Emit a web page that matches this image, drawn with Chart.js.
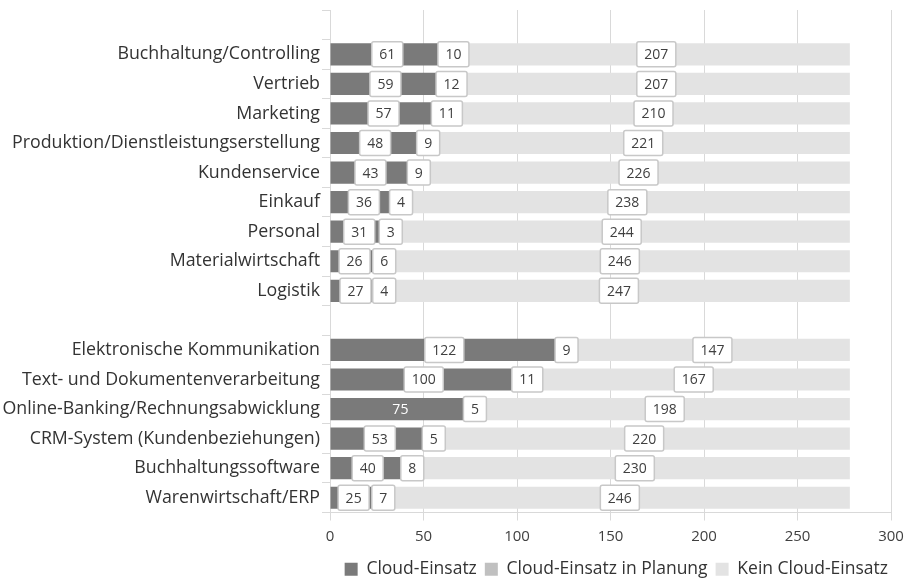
<!DOCTYPE html>
<html>
<head>
<meta charset="utf-8">
<script src="https://cdn.jsdelivr.net/npm/chart.js@4"></script>
<style>
  html, body { margin: 0; padding: 0; background: #fff; }
  #wrap { width: 912px; height: 580px; }
</style>
</head>
<body>
<div id="wrap"><canvas id="chart"></canvas></div>
<script>
const categories = [
  '',
  'Buchhaltung/Controlling',
  'Vertrieb',
  'Marketing',
  'Produktion/Dienstleistungserstellung',
  'Kundenservice',
  'Einkauf',
  'Personal',
  'Materialwirtschaft',
  'Logistik',
  '',
  'Elektronische Kommunikation',
  'Text- und Dokumentenverarbeitung',
  'Online-Banking/Rechnungsabwicklung',
  'CRM-System (Kundenbeziehungen)',
  'Buchhaltungssoftware',
  'Warenwirtschaft/ERP',
];
const cloudEinsatz = [null, 61, 59, 57, 48, 43, 36, 31, 26, 27, null, 122, 100, 75, 53, 40, 25];
const inPlanung = [null, 10, 12, 11, 9, 9, 4, 3, 6, 4, null, 9, 11, 5, 5, 8, 7];
const keinEinsatz = [null, 207, 207, 210, 221, 226, 238, 244, 246, 247, null, 147, 167, 198, 220, 230, 246];
const xTicks = [0, 50, 100, 150, 200, 250, 300];

// label drawn as plain white text, no box (dataset:index)
const plainLabels = ['0:13'];

const FONT = '"Open Sans", "Noto Sans", sans-serif';

const boxLabels = {
  id: 'boxLabels',
  afterDatasetsDraw(chart) {
    const ctx = chart.ctx;
    ctx.save();
    ctx.font = '14px ' + FONT;
    ctx.textAlign = 'center';
    ctx.textBaseline = 'middle';
    chart.data.datasets.forEach((ds, di) => {
      const meta = chart.getDatasetMeta(di);
      meta.data.forEach((bar, i) => {
        const v = ds.data[i];
        if (v == null) return;
        const cx = (bar.x + bar.base) / 2;
        const cy = bar.y;
        const txt = String(v);
        if (plainLabels.includes(di + ':' + i)) {
          ctx.fillStyle = '#ffffff';
          ctx.fillText(txt, cx, cy + 1);
          return;
        }
        const w = ctx.measureText(txt).width + 15;
        const h = 25;
        ctx.fillStyle = '#ffffff';
        ctx.strokeStyle = '#c8c8c8';
        ctx.lineWidth = 1.5;
        ctx.beginPath();
        ctx.roundRect(cx - w / 2, cy - h / 2, w, h, 2);
        ctx.fill();
        ctx.stroke();
        ctx.fillStyle = '#404040';
        ctx.fillText(txt, cx, cy + 1);
      });
    });
    ctx.restore();
  },
};

const chart = new Chart(document.getElementById('chart'), {
  type: 'bar',
  data: {
    labels: categories,
    datasets: [
      { label: 'Cloud-Einsatz', data: cloudEinsatz, backgroundColor: '#7a7a7a' },
      { label: 'Cloud-Einsatz in Planung', data: inPlanung, backgroundColor: '#c0c0c0' },
      { label: 'Kein Cloud-Einsatz', data: keinEinsatz, backgroundColor: '#e3e3e3' },
    ],
  },
  options: {
    indexAxis: 'y',
    responsive: true,
    maintainAspectRatio: false,
    animation: false,
    barPercentage: 0.75,
    categoryPercentage: 1,
    layout: { padding: { left: 0, right: 16, top: 0, bottom: -8 } },
    scales: {
      x: {
        stacked: true,
        min: 0,
        max: 300,
        afterBuildTicks: (axis) => {
          axis.ticks = xTicks.map((v) => ({ value: v }));
        },
        afterFit: (axis) => {
          axis.paddingRight = 21;
        },
        grid: { color: '#d9d9d9', lineWidth: 1, tickLength: 8 },
        border: { color: '#d9d9d9' },
        ticks: { color: '#404040', font: { family: FONT, size: 15 }, padding: 7 },
      },
      y: {
        stacked: true,
        afterFit: (axis) => {
          axis.width = 330;
          axis.paddingTop = 10;
          axis.paddingBottom = 0;
        },
        grid: { drawOnChartArea: false, color: '#d9d9d9', tickLength: 8, offset: true },
        border: { color: '#d9d9d9' },
        ticks: { color: '#333333', font: { family: FONT, size: 17.8 }, padding: 2, autoSkip: false },
      },
    },
    plugins: {
      legend: {
        position: 'bottom',
        align: 'end',
        labels: {
          color: '#333333',
          font: { family: FONT, size: 17.5 },
          boxWidth: 13,
          boxHeight: 13,
          padding: 8,
        },
      },
      tooltip: { enabled: false },
    },
  },
  plugins: [boxLabels],
});
</script>
</body>
</html>
